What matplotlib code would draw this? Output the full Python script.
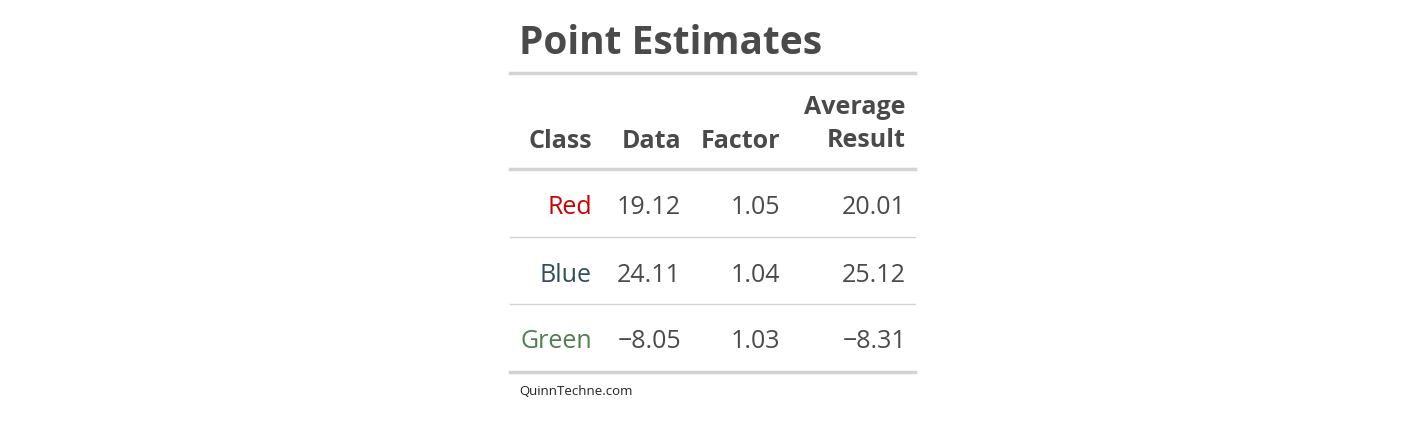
import matplotlib.pyplot as plt
from matplotlib.lines import Line2D

plt.rcParams['font.family'] = ['Open Sans', 'DejaVu Sans']

classes = ["Red", "Blue", "Green"]
class_colors = ["#cc0000", "#2f4f5f", "#4f7f4f"]
data = [19.12, 24.11, -8.05]
factor = [1.05, 1.04, 1.03]
result = [20.01, 25.12, -8.31]
headers = ["Class", "Data", "Factor", "Average\nResult"]

W, H = 1423, 427
fig = plt.figure(figsize=(W / 100, H / 100), dpi=100, facecolor="white")
txt = "#4a4a4a"
grey = "#d3d3d3"

def px(x, y):
    return x / W, 1 - y / H

def hline(y, lw):
    x0, y0 = px(510, y)
    x1, _ = px(915, y)
    fig.add_artist(Line2D([x0, x1], [y0, y0], color=grey, lw=lw, transform=fig.transFigure))

def fmt(v):
    s = f"{abs(v):.2f}"
    return ("\u2212" + s) if v < 0 else s

fig.text(*px(519, 43), "Point Estimates", fontsize=28, fontweight="bold", color=txt,
         ha="left", va="center")
hline(74, 2.5)

col_x = [592, 681, 780, 906]
for x, h in zip(col_x, headers):
    if "\n" in h:
        fig.text(*px(x, 124), h, fontsize=18, fontweight="bold", color=txt,
                 ha="right", va="center", linespacing=1.45, multialignment="right")
    else:
        fig.text(*px(x, 142), h, fontsize=18, fontweight="bold", color=txt,
                 ha="right", va="center")
hline(170, 2.5)

row_y = [208, 275, 342]
for i, y in enumerate(row_y):
    fig.text(*px(col_x[0], y), classes[i], fontsize=18, color=class_colors[i], ha="right", va="center")
    fig.text(*px(col_x[1], y), fmt(data[i]), fontsize=18, color=txt, ha="right", va="center")
    fig.text(*px(col_x[2], y), fmt(factor[i]), fontsize=18, color=txt, ha="right", va="center")
    fig.text(*px(col_x[3], y), fmt(result[i]), fontsize=18, color=txt, ha="right", va="center")
hline(238, 1)
hline(305, 1)
hline(373, 2.5)

fig.text(*px(519, 392), "QuinnTechne.com", fontsize=9.5, color="#222222", ha="left", va="center")

fig.savefig("out.png", dpi=100)
